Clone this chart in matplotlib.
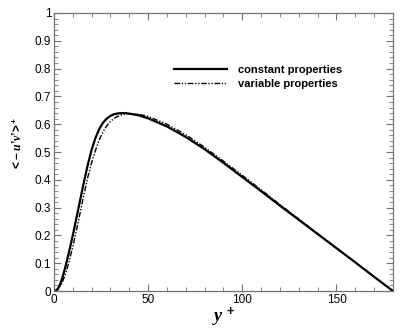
import matplotlib
matplotlib.use("Agg")
import matplotlib.pyplot as plt
from matplotlib.ticker import MultipleLocator

plt.rcParams['font.family'] = 'Liberation Sans'
plt.rcParams['mathtext.fontset'] = 'custom'
plt.rcParams['mathtext.rm'] = 'Liberation Sans:bold'
plt.rcParams['mathtext.it'] = 'Liberation Serif:italic:bold'
plt.rcParams['mathtext.bf'] = 'Liberation Sans:bold'

# wall distance y+
y_const = [0, 1, 2, 3, 4, 5, 6, 8, 10, 12, 14, 16, 18, 20, 22, 24, 26, 28, 30, 32, 34, 36, 38, 40,
           45, 50, 60, 70, 80, 90, 100, 110, 120, 130, 140, 150, 160, 170, 180]
# Reynolds shear stress, constant properties
uv_const = [0, 0.002, 0.008, 0.02, 0.038, 0.06, 0.085, 0.14, 0.2, 0.265, 0.33, 0.395,
            0.455, 0.508, 0.55, 0.582, 0.605, 0.62, 0.63, 0.636, 0.639, 0.64, 0.64, 0.638,
            0.632, 0.621, 0.592, 0.554, 0.51, 0.461, 0.41, 0.359, 0.307, 0.256, 0.205,
            0.154, 0.103, 0.051, 0]

y_var = [0, 2, 4, 6, 8, 10, 12, 14, 16, 18, 20, 22, 24, 26, 28, 30, 32, 34, 36, 38, 40,
         45, 50, 60, 70, 80, 90, 100, 110, 120, 130, 140, 150, 160, 170, 180]
# Reynolds shear stress, variable properties
uv_var = [0, 0.004, 0.025, 0.058, 0.105, 0.16, 0.22, 0.285, 0.35, 0.41, 0.462, 0.505,
          0.543, 0.572, 0.594, 0.61, 0.621, 0.629, 0.634, 0.637, 0.638,
          0.636, 0.628, 0.6, 0.562, 0.517, 0.467, 0.416, 0.364, 0.311, 0.259, 0.207,
          0.155, 0.103, 0.051, 0]

y_ticks = [0, 0.1, 0.2, 0.3, 0.4, 0.5, 0.6, 0.7, 0.8, 0.9, 1]
y_tick_labels = ['0', '0.1', '0.2', '0.3', '0.4', '0.5', '0.6', '0.7', '0.8', '0.9', '1']
x_ticks = [0, 50, 100, 150]

fig = plt.figure(figsize=(4.15, 3.33), dpi=100)
ax = fig.add_axes([0.130, 0.126, 0.817, 0.835])

ax.plot(y_const, uv_const, color='black', lw=1.6, label='constant properties')
ax.plot(y_var, uv_var, color='black', lw=1.0, dashes=(4, 1.2, 1, 1.2, 1, 1.2),
        label='variable properties')

ax.set_xlim(0, 180)
ax.set_ylim(0, 1)
ax.set_xticks(x_ticks, [str(v) for v in x_ticks])
ax.set_yticks(y_ticks, y_tick_labels)
ax.xaxis.set_minor_locator(MultipleLocator(10))
ax.yaxis.set_minor_locator(MultipleLocator(0.02))
ax.tick_params(which='both', direction='in', top=True, right=True, color='0.45',
               labelsize=8.5, pad=2)
ax.tick_params(which='major', length=5, width=0.8)
ax.tick_params(which='minor', length=3, width=0.6)
for s in ax.spines.values():
    s.set_color('0.45')
    s.set_linewidth(0.9)

ax.set_xlabel(r'$y^{\,+}$', fontsize=13, labelpad=0)
ax.set_ylabel("$\\mathrm{<\\!-}u\\mathrm{\u2019}v\\mathrm{\u2019\\!>}^{+}$", fontsize=8.5)
ax.yaxis.set_label_coords(-0.085, 0.53)

ax.legend(loc='upper left', bbox_to_anchor=(0.324, 0.85), frameon=False,
          prop={'weight': 'bold', 'size': 8}, handlelength=4.8, handletextpad=1.0,
          labelspacing=0.35)

fig.savefig('out.png', dpi=100)
